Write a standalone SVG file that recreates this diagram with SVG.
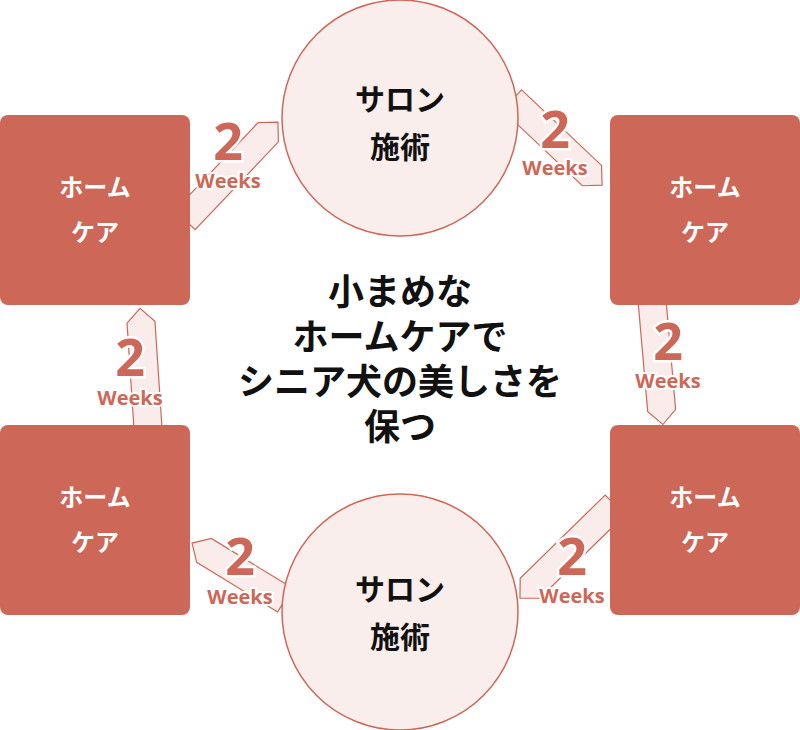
<svg xmlns="http://www.w3.org/2000/svg" width="800" height="730" viewBox="0 0 800 730">
<style>
.box{fill:#cd6758}
.cir{fill:#f9eeeb;stroke:#cd6758;stroke-width:1.5}
.band{fill:#f9ecea;stroke:#cd6758;stroke-width:1.2}
.wt{fill:#fff;font-family:"Noto Sans CJK JP",sans-serif;font-weight:bold;font-size:24px;text-anchor:middle}
.bt{fill:#111;font-family:"Noto Sans CJK JP",sans-serif;font-weight:bold;font-size:30px;text-anchor:middle}
.ct{fill:#111;font-family:"Noto Sans CJK JP",sans-serif;font-weight:bold;font-size:36px;text-anchor:middle}
.n{fill:#cd6758;stroke:#fff;stroke-width:5;paint-order:stroke;font-family:"Open Sans","Noto Sans",sans-serif;font-weight:bold;font-size:52px;text-anchor:middle}
.w{fill:#cd6758;stroke:#fff;stroke-width:4;paint-order:stroke;font-family:"Open Sans","Noto Sans",sans-serif;font-weight:bold;font-size:20px;text-anchor:middle}
</style>
<g id="connectors">
<polygon class="band" transform="translate(185,220) rotate(-46.5)" points="0,-14 121,-14 135,0 121,14 0,14"/>
<polygon class="band" transform="translate(512,100) rotate(43.4)" points="0,-14 110,-14 124,0 110,14 0,14"/>
<polygon class="band" transform="translate(652,300) rotate(85)" points="0,-14 111,-14 125,0 111,14 0,14"/>
<polygon class="band" transform="translate(615,505) rotate(135.6)" points="0,-14 119,-14 133,0 119,14 0,14"/>
<polygon class="band" transform="translate(285,600) rotate(211.5)" points="0,-14 95,-14 109,0 95,14 0,14"/>
<polygon class="band" transform="translate(148,428) rotate(-93.8)" points="0,-14 106,-14 120,0 106,14 0,14"/>
</g>
<g id="home-tl"><rect class="box" x="0" y="115" width="190" height="190" rx="8"/><text class="wt" x="95" y="196">ホーム</text><text class="wt" x="95" y="241">ケア</text></g>
<g id="home-tr"><rect class="box" x="610" y="115" width="190" height="190" rx="8"/><text class="wt" x="705" y="196">ホーム</text><text class="wt" x="705" y="241">ケア</text></g>
<g id="home-bl"><rect class="box" x="0" y="425" width="190" height="190" rx="8"/><text class="wt" x="95" y="506">ホーム</text><text class="wt" x="95" y="551">ケア</text></g>
<g id="home-br"><rect class="box" x="610" y="425" width="190" height="190" rx="8"/><text class="wt" x="705" y="506">ホーム</text><text class="wt" x="705" y="551">ケア</text></g>
<g id="salon-top"><circle class="cir" cx="400" cy="118" r="118"/><text class="bt" x="400" y="110">サロン</text><text class="bt" x="400" y="158">施術</text></g>
<g id="salon-bottom"><circle class="cir" cx="400" cy="612" r="118"/><text class="bt" x="400" y="600">サロン</text><text class="bt" x="400" y="648">施術</text></g>
<g id="center"><text class="ct" x="400" y="305">小まめな</text><text class="ct" x="400" y="350">ホームケアで</text><text class="ct" x="400" y="395">シニア犬の美しさを</text><text class="ct" x="400" y="440">保つ</text></g>
<g id="labels">
<text class="n" x="228" y="160">2</text><text class="w" x="228" y="188">Weeks</text>
<text class="n" x="555" y="148">2</text><text class="w" x="555" y="175">Weeks</text>
<text class="n" x="668" y="360">2</text><text class="w" x="668" y="388">Weeks</text>
<text class="n" x="572" y="575">2</text><text class="w" x="572" y="603">Weeks</text>
<text class="n" x="240" y="575">2</text><text class="w" x="240" y="604">Weeks</text>
<text class="n" x="130" y="376">2</text><text class="w" x="130" y="405">Weeks</text>
</g>
</svg>
